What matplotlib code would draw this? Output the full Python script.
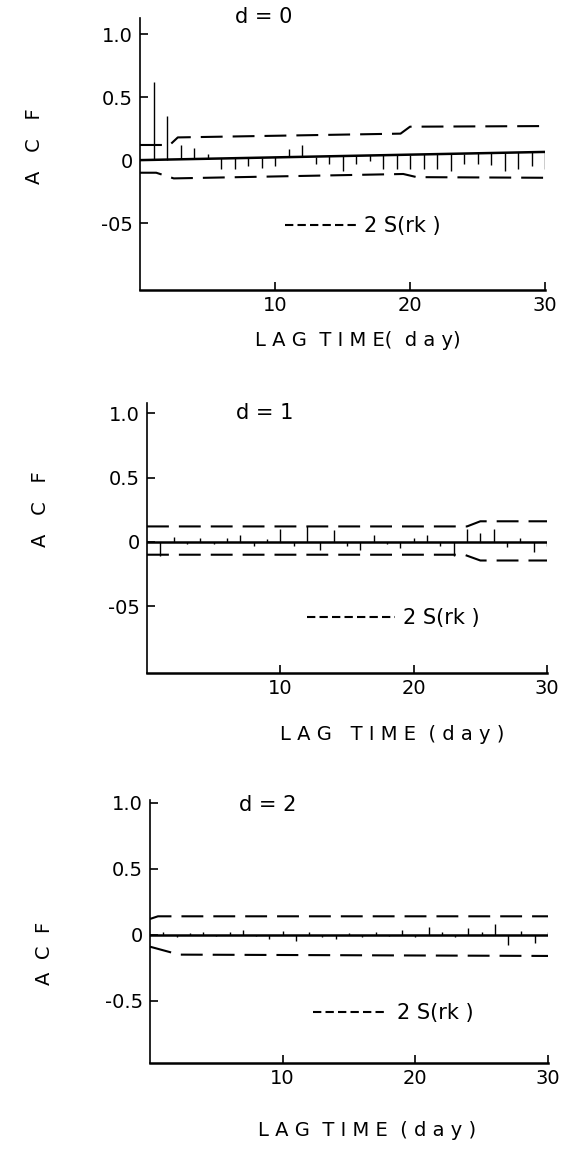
import numpy as np
import matplotlib.pyplot as plt
from matplotlib.lines import Line2D

plt.rcParams['font.family'] = ['DejaVu Sans']

W, H = 568, 1153

lags = np.arange(1, 31)

# d = 0
acf_d0 = [0.62, 0.35, 0.12, 0.10, 0.05, -0.07, -0.07, -0.05, -0.06, -0.05,
          0.09, 0.12, -0.03, -0.03, -0.09, -0.03, -0.01, -0.07, -0.07, -0.07,
          -0.07, -0.07, -0.09, -0.03, -0.03, -0.04, -0.09, -0.07, -0.05, -0.07]
base_d0 = [0.0, 0.065]          # zero line as drawn, at lag 0 and lag 30
up_lag_d0 = [0, 2.2, 2.8, 19.3, 20.0, 30]
up_d0 = [0.12, 0.12, 0.18, 0.21, 0.265, 0.27]
lo_lag_d0 = [0, 1.2, 2.5, 19.5, 20.5, 30]
lo_d0 = [-0.10, -0.10, -0.145, -0.11, -0.135, -0.14]

# d = 1
acf_d1 = [-0.11, 0.04, -0.02, 0.03, -0.02, 0.03, 0.05, -0.03, 0.02, 0.10,
          -0.03, 0.12, -0.06, 0.09, -0.03, -0.06, 0.05, -0.02, -0.05, 0.03,
          0.05, -0.03, -0.11, 0.10, 0.07, 0.10, -0.04, 0.03, -0.08, -0.03]
base_d1 = [0.0, 0.0]
up_lag_d1 = [0, 24.0, 25.0, 30]
up_d1 = [0.12, 0.12, 0.16, 0.16]
lo_lag_d1 = [0, 23.8, 25.0, 30]
lo_d1 = [-0.10, -0.10, -0.145, -0.145]

# d = 2
acf_d2 = [0.02, -0.02, 0.01, 0.02, -0.01, 0.02, 0.04, -0.01, -0.03, 0.03,
          -0.05, 0.02, -0.02, -0.03, 0.01, -0.02, 0.02, -0.01, 0.04, -0.02,
          0.06, 0.02, -0.02, 0.05, 0.02, 0.08, -0.08, 0.03, -0.06, 0.02]
base_d2 = [0.0, 0.0]
up_lag_d2 = [0, 0.6, 30]
up_d2 = [0.12, 0.14, 0.14]
lo_lag_d2 = [0, 2.2, 30]
lo_d2 = [-0.09, -0.15, -0.16]

titles = ['d = 0', 'd = 1', 'd = 2']
ytick_vals = [1.0, 0.5, 0, -0.5]
ytick_labels = [['1.0', '0.5', '0', '-05'],
                ['1.0', '0.5', '0', '-05'],
                ['1.0', '0.5', '0', '-0.5']]
xtick_vals = [10, 20, 30]
xlabels = ['L A G  T I M E(  d a y)', 'L A G   T I M E  ( d a y )', 'L A G  T I M E  ( d a y )']
ylabels = ['A   C   F', 'A   C   F', 'A  C  F']

series = [
    (acf_d0, base_d0, up_lag_d0, up_d0, lo_lag_d0, lo_d0),
    (acf_d1, base_d1, up_lag_d1, up_d1, lo_lag_d1, lo_d1),
    (acf_d2, base_d2, up_lag_d2, up_d2, lo_lag_d2, lo_d2),
]

# layout in pixels: axes (left, right, top, bottom), ylim, text spots
layout = [
    dict(box=(140, 545, 18, 290), ylim=(-1.03, 1.127), title=(264, 17),
         ylab=(35, 146), xlab=(358, 341), leg=(0.358, 0.235), hl=3.4),
    dict(box=(147, 547, 403, 673), ylim=(-1.02, 1.08), title=(265, 413),
         ylab=(40, 509), xlab=(392, 735), leg=(0.40, 0.204), hl=4.2),
    dict(box=(150, 548, 800, 1063), ylim=(-0.97, 1.02), title=(268, 805),
         ylab=(45, 953), xlab=(367, 1130), leg=(0.41, 0.19), hl=3.6),
]

fig = plt.figure(figsize=(W / 100, H / 100), dpi=100)

band_ls = (0, (10.5, 4.8))

for i, (acf, base, ul, uv, ll, lv) in enumerate(series):
    L = layout[i]
    x0, x1, y0, y1 = L['box']
    ax = fig.add_axes([x0 / W, 1 - y1 / H, (x1 - x0) / W, (y1 - y0) / H])

    bottoms = np.interp(lags, [0, 30], base)
    ax.vlines(lags, bottoms, acf, color='k', lw=1.0)
    ax.plot([0, 30], base, color='k', lw=1.8)
    ax.plot(ul, uv, color='k', lw=1.5, linestyle=band_ls)
    ax.plot(ll, lv, color='k', lw=1.5, linestyle=band_ls)

    ax.set_xlim(0, 30)
    ax.set_ylim(*L['ylim'])
    for s in ['top', 'right']:
        ax.spines[s].set_visible(False)
    ax.spines['left'].set_linewidth(1.2)
    ax.spines['bottom'].set_linewidth(1.8)

    ax.set_yticks(ytick_vals)
    ax.set_yticklabels(ytick_labels[i])
    ax.set_xticks(xtick_vals)
    ax.tick_params(axis='y', direction='in', length=6, width=1.2, labelsize=14, pad=5)
    ax.tick_params(axis='x', direction='in', length=6, width=1.2, labelsize=14, pad=4)

    h = Line2D([], [], color='k', lw=1.5, linestyle=(0, (4, 2)))
    ax.legend([h], ['2 S(rk )'], frameon=False, loc='center left',
              bbox_to_anchor=L['leg'], fontsize=15, handlelength=L['hl'],
              handletextpad=0.4, borderpad=0, borderaxespad=0)

    tx, ty = L['title']
    fig.text(tx / W, 1 - ty / H, titles[i], ha='center', va='center', fontsize=15)
    lx, ly = L['ylab']
    fig.text(lx / W, 1 - ly / H, ylabels[i], ha='center', va='center',
             fontsize=14, rotation=90)
    bx, by = L['xlab']
    fig.text(bx / W, 1 - by / H, xlabels[i], ha='center', va='center', fontsize=14)

fig.savefig('out.png', dpi=100)
